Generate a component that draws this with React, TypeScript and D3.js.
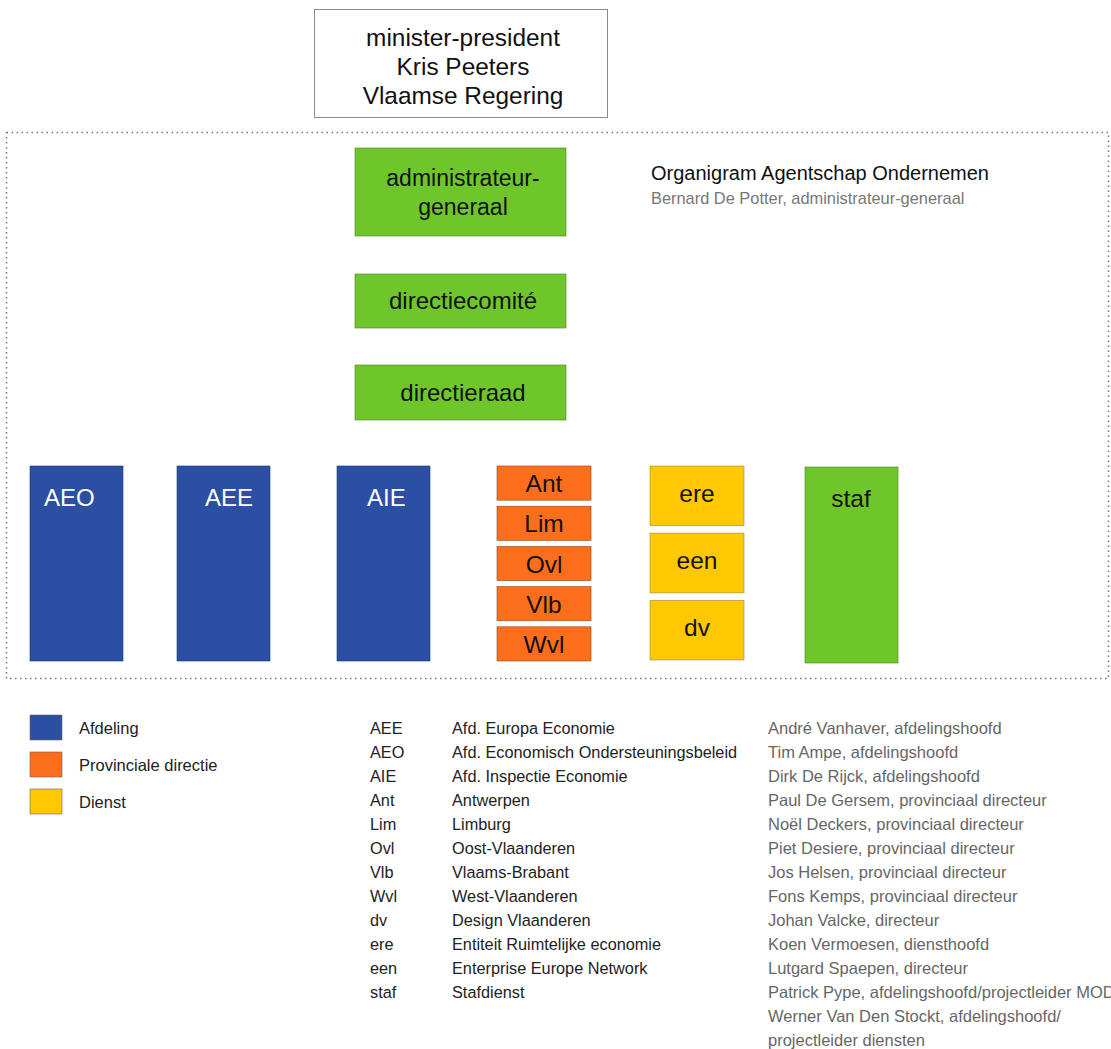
import { useEffect, useRef } from 'react'
import * as d3 from 'd3'

const FONT = 'Liberation Sans, Arial, sans-serif'

const COLORS = {
	afdeling: '#2a4fa3',
	provincie: '#fd6e1c',
	dienst: '#ffc802',
	green: '#6fc62b',
}

const topLines = ['minister-president', 'Kris Peeters', 'Vlaamse Regering']

// green boxes in the central column
const boardBoxes = [
	{ lines: ['administrateur-', 'generaal'], y0: 148, y1: 236, size: 23 },
	{ lines: ['directiecomité'], y0: 274, y1: 328, size: 24 },
	{ lines: ['directieraad'], y0: 365, y1: 420, size: 24 },
]

const afdelingen = [
	{ code: 'AEO', x0: 30, x1: 123, tx: 44 },
	{ code: 'AEE', x0: 177, x1: 270, tx: 205 },
	{ code: 'AIE', x0: 337, x1: 430, tx: 367 },
]

const provincies = ['Ant', 'Lim', 'Ovl', 'Vlb', 'Wvl']
const diensten = ['ere', 'een', 'dv']

const legendItems = [
	{ label: 'Afdeling', color: COLORS.afdeling },
	{ label: 'Provinciale directie', color: COLORS.provincie },
	{ label: 'Dienst', color: COLORS.dienst },
]

const abbrevs = ['AEE', 'AEO', 'AIE', 'Ant', 'Lim', 'Ovl', 'Vlb', 'Wvl', 'dv', 'ere', 'een', 'staf']
const descriptions = [
	'Afd. Europa Economie',
	'Afd. Economisch Ondersteuningsbeleid',
	'Afd. Inspectie Economie',
	'Antwerpen',
	'Limburg',
	'Oost-Vlaanderen',
	'Vlaams-Brabant',
	'West-Vlaanderen',
	'Design Vlaanderen',
	'Entiteit Ruimtelijke economie',
	'Enterprise Europe Network',
	'Stafdienst',
]
const persons = [
	'André Vanhaver, afdelingshoofd',
	'Tim Ampe, afdelingshoofd',
	'Dirk De Rijck, afdelingshoofd',
	'Paul De Gersem, provinciaal directeur',
	'Noël Deckers, provinciaal directeur',
	'Piet Desiere, provinciaal directeur',
	'Jos Helsen, provinciaal directeur',
	'Fons Kemps, provinciaal directeur',
	'Johan Valcke, directeur',
	'Koen Vermoesen, diensthoofd',
	'Lutgard Spaepen, directeur',
	'Patrick Pype, afdelingshoofd/projectleider MOD',
	'Werner Van Den Stockt, afdelingshoofd/',
	'projectleider diensten',
]

export default function App() {
	const ref = useRef<SVGSVGElement>(null)

	useEffect(() => {
		const svg = d3.select(ref.current)
		svg.selectAll('*').remove()

		// minister box
		svg
			.append('rect')
			.attr('x', 314.5)
			.attr('y', 9.5)
			.attr('width', 293)
			.attr('height', 108)
			.attr('fill', '#fff')
			.attr('stroke', '#8a8a8a')
		svg
			.append('g')
			.selectAll('text')
			.data(topLines)
			.enter()
			.append('text')
			.attr('x', 463)
			.attr('y', (d, i) => 46 + i * 29)
			.attr('text-anchor', 'middle')
			.style('font', `24.4px ${FONT}`)
			.attr('fill', '#111')
			.text((d) => d)

		// dotted frame
		svg
			.append('rect')
			.attr('x', 6.5)
			.attr('y', 132.5)
			.attr('width', 1102)
			.attr('height', 546)
			.attr('fill', 'none')
			.attr('stroke', '#777')
			.attr('stroke-width', 1.5)
			.attr('stroke-dasharray', '1.5 3.5')

		// title
		svg
			.append('text')
			.attr('x', 651)
			.attr('y', 180)
			.style('font', `20px ${FONT}`)
			.attr('fill', '#111')
			.text('Organigram Agentschap Ondernemen')
		svg
			.append('text')
			.attr('x', 651)
			.attr('y', 204)
			.style('font', `16.4px ${FONT}`)
			.attr('fill', '#777')
			.text('Bernard De Potter, administrateur-generaal')

		// board boxes
		const board = svg.append('g').selectAll('g').data(boardBoxes).enter().append('g')
		board
			.append('rect')
			.attr('x', 355)
			.attr('y', (d) => d.y0)
			.attr('width', 211)
			.attr('height', (d) => d.y1 - d.y0)
			.attr('fill', COLORS.green)
			.attr('stroke', '#4d7f25')
			.attr('stroke-width', 0.6)
		board.each(function (d) {
			const mid = (d.y0 + d.y1) / 2
			const lh = 29
			d3.select(this)
				.selectAll('text')
				.data(d.lines)
				.enter()
				.append('text')
				.attr('x', 463)
				.attr('y', (l, i) => mid + 8 + (i - (d.lines.length - 1) / 2) * lh)
				.attr('text-anchor', 'middle')
				.style('font', `${d.size}px ${FONT}`)
				.attr('fill', '#111')
				.text((l) => l)
		})

		// afdelingen (blue)
		const bandTop = 466
		const bandBottom = 661
		const afd = svg.append('g').selectAll('g').data(afdelingen).enter().append('g')
		afd
			.append('rect')
			.attr('x', (d) => d.x0)
			.attr('y', bandTop)
			.attr('width', (d) => d.x1 - d.x0)
			.attr('height', bandBottom - bandTop)
			.attr('fill', COLORS.afdeling)
			.attr('stroke', '#1d3a7a')
			.attr('stroke-width', 0.6)
		afd
			.append('text')
			.attr('x', (d) => d.tx)
			.attr('y', 506)
			.style('font', `24px ${FONT}`)
			.attr('fill', '#fff')
			.text((d) => d.code)

		// provinciale directies (orange)
		const provY = d3.scaleBand().domain(provincies).range([bandTop, bandBottom]).paddingInner(0.15)
		const prov = svg.append('g').selectAll('g').data(provincies).enter().append('g')
		prov
			.append('rect')
			.attr('x', 497)
			.attr('y', (d) => provY(d)!)
			.attr('width', 94)
			.attr('height', provY.bandwidth())
			.attr('fill', COLORS.provincie)
			.attr('stroke', '#8a4a20')
			.attr('stroke-width', 0.6)
		prov
			.append('text')
			.attr('x', 544)
			.attr('y', (d) => provY(d)! + provY.bandwidth() / 2 + 9)
			.attr('text-anchor', 'middle')
			.style('font', `24.5px ${FONT}`)
			.attr('fill', '#111')
			.text((d) => d)

		// diensten (yellow)
		const dienstY = d3.scaleBand().domain(diensten).range([bandTop, bandBottom - 1]).paddingInner(0.11)
		const dien = svg.append('g').selectAll('g').data(diensten).enter().append('g')
		dien
			.append('rect')
			.attr('x', 650)
			.attr('y', (d) => dienstY(d)!)
			.attr('width', 94)
			.attr('height', dienstY.bandwidth())
			.attr('fill', COLORS.dienst)
			.attr('stroke', '#9a8a40')
			.attr('stroke-width', 0.6)
		dien
			.append('text')
			.attr('x', 697)
			.attr('y', (d) => dienstY(d)! + dienstY.bandwidth() / 2 + 6)
			.attr('text-anchor', 'middle')
			.style('font', `24.5px ${FONT}`)
			.attr('fill', '#111')
			.text((d) => d)

		// staf (green)
		svg
			.append('rect')
			.attr('x', 805)
			.attr('y', bandTop + 1)
			.attr('width', 93)
			.attr('height', bandBottom - bandTop + 1)
			.attr('fill', COLORS.green)
			.attr('stroke', '#4d7f25')
			.attr('stroke-width', 0.6)
		svg
			.append('text')
			.attr('x', 851)
			.attr('y', 507)
			.attr('text-anchor', 'middle')
			.style('font', `24.5px ${FONT}`)
			.attr('fill', '#111')
			.text('staf')

		// legend
		const leg = svg.append('g').selectAll('g').data(legendItems).enter().append('g')
		leg
			.append('rect')
			.attr('x', 30)
			.attr('y', (d, i) => 715 + i * 37)
			.attr('width', 32)
			.attr('height', 25)
			.attr('fill', (d) => d.color)
			.attr('stroke', '#666')
			.attr('stroke-width', 0.6)
		leg
			.append('text')
			.attr('x', 79)
			.attr('y', (d, i) => 734 + i * 37)
			.style('font', `16.5px ${FONT}`)
			.attr('fill', '#222')
			.text((d) => d.label)

		// abbreviations table
		const rowY = d3
			.scaleLinear()
			.domain([0, persons.length - 1])
			.range([734, 1046])
		const col = (data: string[], x: number, color: string, size: number) =>
			svg
				.append('g')
				.selectAll('text')
				.data(data)
				.enter()
				.append('text')
				.attr('x', x)
				.attr('y', (d, i) => rowY(i))
				.style('font', `${size}px ${FONT}`)
				.attr('fill', color)
				.text((d) => d)
		col(abbrevs, 370, '#222', 16.3)
		col(descriptions, 452, '#222', 16.3)
		col(persons, 768, '#666', 16.5)
	}, [])

	return (
		<svg
			ref={ref}
			width={1111}
			height={1049}
			style={{ position: 'absolute', left: 0, top: 0, background: '#fff' }}
		/>
	)
}
